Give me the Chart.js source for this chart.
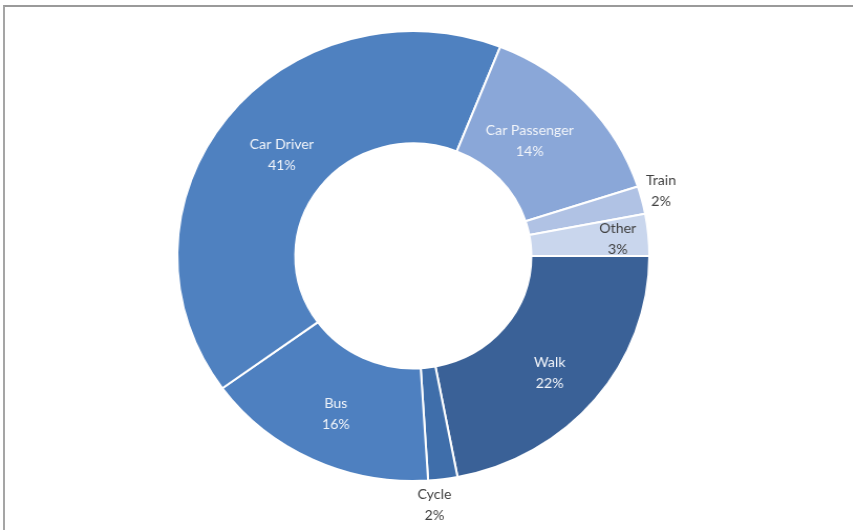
<!DOCTYPE html>
<html>
<head>
<meta charset="utf-8">
<script src="https://cdn.jsdelivr.net/npm/chart.js@4/dist/chart.umd.min.js"></script>
<style>
  html, body { margin: 0; padding: 0; background: #fff; overflow: hidden; }
  #frame {
    position: absolute; left: 3px; top: 5px; width: 850px; height: 525px;
    border-top: 2px solid #9a9a9a; border-left: 2px solid #a5a5a5;
    box-sizing: border-box;
  }
  #wrap {
    position: absolute; left: 0; top: 0; width: 813px; height: 530px;
    transform: scaleX(1.049); transform-origin: 0 0;
  }
</style>
</head>
<body>
<div id="frame"></div>
<div id="wrap"><canvas id="c" width="813" height="530"></canvas></div>
<script>
// Travel mode share, clockwise from 3 o'clock
const categories = ['Walk', 'Cycle', 'Bus', 'Car Driver', 'Car Passenger', 'Train', 'Other'];
const shares = [22, 2, 16, 41, 14, 2, 3];
const sliceColors = ['#3a6197', '#3f6eaa', '#4e80c0', '#4f81c0', '#8aa7d8', '#b0c2e4', '#c9d6ed'];

// label placement: radius as fraction of the outer radius, small nudges, text colour
const labelStyle = {
  'Walk':          { r: 0.75, dx: 0,   dy: 10, color: '#f2f5fa' },
  'Cycle':         { r: 1.07, dx: -10, dy: 11, color: '#404040' },
  'Bus':           { r: 0.75, dx: -2,  dy: 6,  color: '#f2f5fa' },
  'Car Driver':    { r: 0.75, dx: 8,   dy: 3,  color: '#f2f5fa' },
  'Car Passenger': { r: 0.75, dx: -12, dy: 1,  color: '#f2f5fa' },
  'Train':         { r: 1.07, dx: 3,   dy: -4, color: '#404040' },
  'Other':         { r: 0.87, dx: 0,   dy: 2,  color: '#404040' }
};

const sliceLabels = {
  id: 'sliceLabels',
  afterDatasetsDraw(chart) {
    const { ctx } = chart;
    const meta = chart.getDatasetMeta(0);
    ctx.save();
    ctx.font = '13.5px Lato, "Open Sans", sans-serif';
    ctx.textAlign = 'center';
    ctx.textBaseline = 'middle';
    meta.data.forEach((arc, i) => {
      const name = categories[i];
      const st = labelStyle[name];
      const mid = (arc.startAngle + arc.endAngle) / 2;
      const rr = arc.outerRadius * st.r;
      const x = arc.x + Math.cos(mid) * rr + st.dx;
      const y = arc.y + Math.sin(mid) * rr + st.dy;
      ctx.fillStyle = st.color;
      ctx.fillText(name, x, y - 11);
      ctx.fillText(shares[i] + '%', x, y + 10);
    });
    ctx.restore();
  }
};

new Chart(document.getElementById('c'), {
  type: 'doughnut',
  data: {
    labels: categories,
    datasets: [{
      data: shares,
      backgroundColor: sliceColors,
      borderColor: '#ffffff',
      borderWidth: 2
    }]
  },
  options: {
    responsive: false,
    animation: false,
    rotation: 90,
    cutout: '50%',
    layout: { padding: { left: 168, right: 193, top: 30, bottom: 48 } },
    plugins: { legend: { display: false }, tooltip: { enabled: false } }
  },
  plugins: [sliceLabels]
});
</script>
</body>
</html>
